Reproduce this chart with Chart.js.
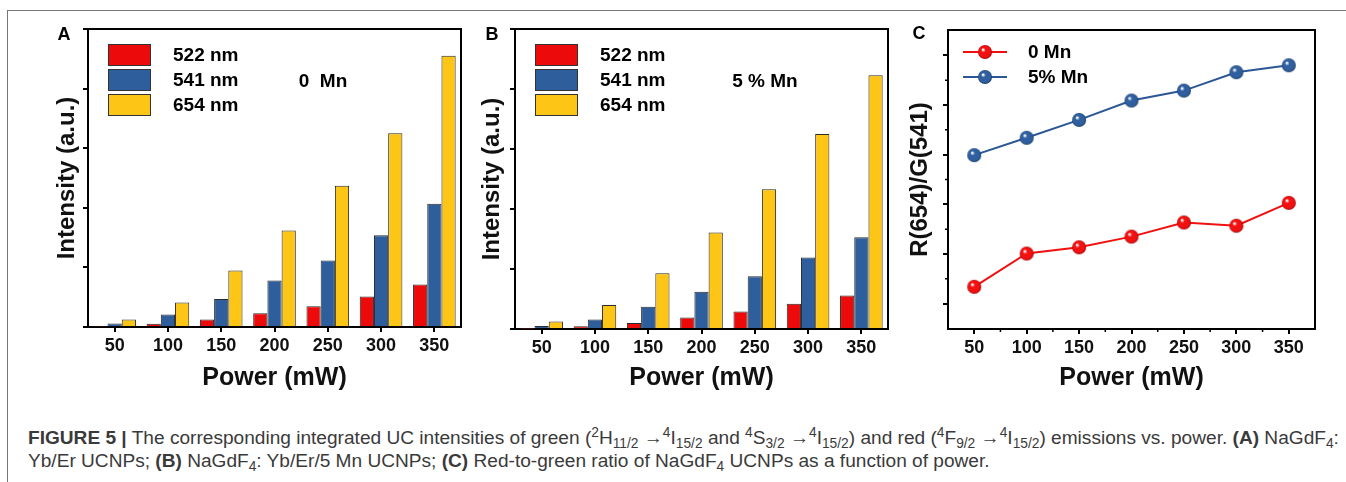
<!DOCTYPE html>
<html>
<head>
<meta charset="utf-8">
<script src="https://cdn.jsdelivr.net/npm/chart.js@4"></script>
<style>
  body { margin: 0; background: #fff; width: 1346px; height: 482px; overflow: hidden; position: relative; }
  canvas { position: absolute; top: 0; }
  #frame { position: absolute; left: 7px; top: 10px; width: 1345px; height: 480px; border-top: 1px solid #777; border-left: 1px solid #777; }
  #caption { position: absolute; left: 28px; top: 426px; font-family: 'Liberation Sans', Arial, sans-serif; font-size: 19.1px; line-height: 23px; color: #3a3a3a; white-space: nowrap; }
  #caption sup, #caption sub { font-size: 72%; line-height: 0; position: relative; vertical-align: baseline; }
  #caption sup { top: -0.5em; }
  #caption sub { bottom: -0.3em; }
</style>
</head>
<body>
<div id="frame"></div>
<canvas id="chartA" width="445" height="400" style="left:30px"></canvas>
<canvas id="chartB" width="430" height="400" style="left:470px"></canvas>
<canvas id="chartC" width="446" height="400" style="left:900px"></canvas>
<div id="caption"><b>FIGURE 5 |</b> The corresponding integrated UC intensities of green (<sup>2</sup>H<sub>11/2</sub> &rarr;<sup>4</sup>I<sub>15/2</sub> and <sup>4</sup>S<sub>3/2</sub> &rarr;<sup>4</sup>I<sub>15/2</sub>) and red (<sup>4</sup>F<sub>9/2</sub> &rarr;<sup>4</sup>I<sub>15/2</sub>) emissions vs. power. <b>(A)</b> NaGdF<sub>4</sub>:<br>Yb/Er UCNPs; <b>(B)</b> NaGdF<sub>4</sub>: Yb/Er/5 Mn UCNPs; <b>(C)</b> Red-to-green ratio of NaGdF<sub>4</sub> UCNPs as a function of power.</div>

<script>
// power values on the x axis (mW)
const powers = ['50', '100', '150', '200', '250', '300', '350'];
const waveLabels = ['522 nm', '541 nm', '654 nm'];

// panel A: 0 Mn, integrated intensities (a.u., one unit = one y tick)
const a522 = [0.01, 0.056, 0.124, 0.23, 0.35, 0.51, 0.715];
const a541 = [0.06, 0.21, 0.47, 0.78, 1.115, 1.54, 2.07];
const a654 = [0.124, 0.41, 0.95, 1.62, 2.37, 3.25, 4.55];

// panel B: 5 % Mn
const b522 = [0.005, 0.045, 0.10, 0.19, 0.29, 0.42, 0.56];
const b541 = [0.05, 0.157, 0.37, 0.62, 0.88, 1.19, 1.53];
const b654 = [0.124, 0.40, 0.93, 1.61, 2.33, 3.25, 4.23];

// panel C: red/green ratio (unlabelled axis, one unit = one major tick)
const ratioLabels = ['0 Mn', '5% Mn'];
const ratio0 = [1.34, 2.01, 2.135, 2.35, 2.635, 2.57, 3.03];
const ratio5 = [3.99, 4.34, 4.70, 5.09, 5.29, 5.66, 5.80];
const ratioMajor = [1, 2, 3, 4, 5, 6];
const ratioMinor = [1.5, 2.5, 3.5, 4.5, 5.5];

const FONT = "'Liberation Sans', Arial, sans-serif";
Chart.defaults.font.family = FONT;
Chart.defaults.color = '#111';

const barColors = ['#ec0a0a', '#2e5e9c', '#fdc516'];

function sphere(color, dark) {
  const r = 7;
  const c = document.createElement('canvas');
  c.width = c.height = 2 * r + 2;
  const ctx = c.getContext('2d');
  const m = r + 1;
  const g = ctx.createRadialGradient(m - r * 0.3, m - r * 0.35, 0.5, m, m, r);
  g.addColorStop(0, '#ffffff');
  g.addColorStop(0.28, color);
  g.addColorStop(0.8, color);
  g.addColorStop(1, dark);
  ctx.fillStyle = g;
  ctx.beginPath();
  ctx.arc(m, m, r, 0, Math.PI * 2);
  ctx.fill();
  return c;
}
const redBall = sphere('#f21010', '#a00000');
const blueBall = sphere('#2f5f9f', '#173a66');

// frame on top/right, minor ticks, panel letter, legend and note
const decor = {
  id: 'decor',
  afterDraw(chart, args, opts) {
    const ctx = chart.ctx;
    const a = chart.chartArea;
    ctx.save();
    ctx.strokeStyle = '#000';
    ctx.lineWidth = 2;
    ctx.beginPath();
    ctx.moveTo(a.left, a.top);
    ctx.lineTo(a.right, a.top);
    ctx.lineTo(a.right, a.bottom);
    ctx.stroke();

    if (opts.minor) {
      const x = chart.scales.x, y = chart.scales.y;
      ctx.lineWidth = 1.5;
      ctx.beginPath();
      opts.minor.forEach(v => {
        const py = y.getPixelForValue(v);
        ctx.moveTo(a.left, py);
        ctx.lineTo(a.left - 3, py);
      });
      for (let i = 0; i < x.ticks.length - 1; i++) {
        const px = (x.getPixelForTick(i) + x.getPixelForTick(i + 1)) / 2;
        ctx.moveTo(px, a.bottom);
        ctx.lineTo(px, a.bottom + 3);
      }
      ctx.stroke();
    }

    ctx.fillStyle = '#000';
    ctx.textBaseline = 'middle';
    ctx.textAlign = 'center';
    ctx.font = 'bold 18px ' + FONT;
    ctx.fillText(opts.letter, a.left + opts.letterDx, a.top + opts.letterDy);

    ctx.textAlign = 'left';
    ctx.font = 'bold 19px ' + FONT;
    chart.data.datasets.forEach((ds, i) => {
      if (opts.legend === 'box') {
        const top = a.top + 15 + i * 25;
        ctx.fillStyle = ds.backgroundColor;
        ctx.fillRect(a.left + 20, top, 43, 22);
        ctx.lineWidth = 1;
        ctx.strokeStyle = '#333';
        ctx.strokeRect(a.left + 20.5, top + 0.5, 42, 21);
        ctx.fillStyle = '#000';
        ctx.fillText(ds.label, a.left + 85, top + 11.5);
      } else {
        const cy = a.top + 22 + i * 25;
        ctx.strokeStyle = ds.borderColor;
        ctx.lineWidth = 2;
        ctx.beginPath();
        ctx.moveTo(a.left + 15, cy);
        ctx.lineTo(a.left + 59, cy);
        ctx.stroke();
        const img = ds.pointStyle;
        ctx.drawImage(img, a.left + 37 - img.width / 2, cy - img.height / 2);
        ctx.fillStyle = '#000';
        ctx.fillText(ds.label, a.left + 80, cy + 1);
      }
    });

    if (opts.note) {
      ctx.textAlign = 'center';
      ctx.fillStyle = '#000';
      ctx.fillText(opts.note, a.left + opts.noteDx, a.top + 53);
    }
    ctx.restore();
  }
};

function axisX(titleTop) {
  return {
    type: 'category',
    offset: true,
    grid: { display: true, offset: false, drawOnChartArea: false, drawTicks: true, tickLength: 5, color: '#000', lineWidth: 2 },
    border: { display: true, color: '#000', width: 2 },
    ticks: { font: { size: 18, weight: 'bold' }, color: '#111', padding: 3, maxRotation: 0 },
    title: { display: true, text: 'Power (mW)', font: { size: 25, weight: 'bold' }, color: '#111', padding: { top: titleTop, bottom: 2 } }
  };
}

function axisY(text, min, max, titleBottom) {
  return {
    min: min,
    max: max,
    grid: { display: true, drawOnChartArea: false, drawTicks: true, tickLength: 5, color: '#000', lineWidth: 2 },
    border: { display: true, color: '#000', width: 2 },
    ticks: { display: false, stepSize: 1 },
    title: { display: true, text: text, font: { size: 24, weight: 'bold' }, color: '#111', padding: { top: 4, bottom: titleBottom } }
  };
}

function barChart(id, series, pad, decorOpts) {
  return new Chart(document.getElementById(id), {
    type: 'bar',
    data: {
      labels: powers,
      datasets: series.map((d, i) => ({
        label: waveLabels[i],
        data: d,
        backgroundColor: barColors[i],
        borderColor: '#2a2a2a',
        borderWidth: 1,
        categoryPercentage: 0.8,
        barPercentage: 1.0
      }))
    },
    options: {
      responsive: false,
      animation: false,
      layout: { padding: { left: pad.left, right: pad.right, top: pad.top, bottom: 5 } },
      plugins: { legend: { display: false }, tooltip: { enabled: false }, decor: decorOpts },
      scales: { x: axisX(pad.titleTop), y: axisY('Intensity (a.u.)', 0, 5, pad.titleBottom) }
    },
    plugins: [decor]
  });
}

barChart('chartA', [a522, a541, a654],
  { left: 18.6, right: 14, top: 29, titleTop: 3.4, titleBottom: 1.6 },
  { letter: 'A', letterDx: -24, letterDy: 6, legend: 'box', note: '0  Mn', noteDx: 235 });

barChart('chartB', [b522, b541, b654],
  { left: 3.6, right: 12, top: 29, titleTop: 1.4, titleBottom: 3.6 },
  { letter: 'B', letterDx: -23, letterDy: 6, legend: 'box', note: '5 % Mn', noteDx: 250 });

const yC = axisY('R(654)/G(541)', 0.49, 6.51, 8.6);
yC.afterBuildTicks = scale => { scale.ticks = ratioMajor.map(v => ({ value: v })); };

new Chart(document.getElementById('chartC'), {
  type: 'line',
  data: {
    labels: powers,
    datasets: [
      { label: ratioLabels[0], data: ratio0, borderColor: '#f01010', borderWidth: 2, pointStyle: redBall, pointRadius: 7 },
      { label: ratioLabels[1], data: ratio5, borderColor: '#2b5795', borderWidth: 2, pointStyle: blueBall, pointRadius: 7 }
    ]
  },
  options: {
    responsive: false,
    animation: false,
    layout: { padding: { left: 1.6, right: 31, top: 30, bottom: 5 } },
    plugins: {
      legend: { display: false },
      tooltip: { enabled: false },
      decor: { letter: 'C', letterDx: -29, letterDy: 4, legend: 'line', minor: ratioMinor }
    },
    scales: { x: axisX(1.4), y: yC }
  },
  plugins: [decor]
});
</script>
</body>
</html>
